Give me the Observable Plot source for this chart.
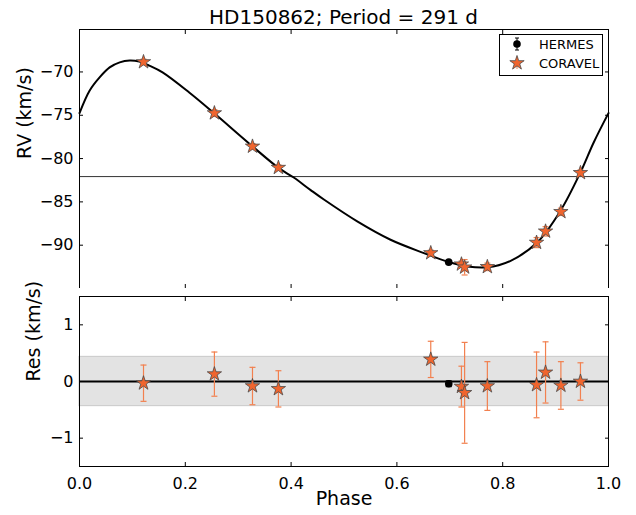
<!DOCTYPE html>
<html><head><meta charset="utf-8">
<script src="https://cdn.jsdelivr.net/npm/d3@7"></script>
<script src="https://cdn.jsdelivr.net/npm/@observablehq/plot@0.6"></script>
<style>
body{margin:0;background:#fff;font-family:"DejaVu Sans",sans-serif;}
#wrap{position:relative;width:636px;height:515px;overflow:hidden;background:#fff;}
#title{position:absolute;left:79px;width:529px;top:5px;text-align:center;font-size:20px;line-height:24px;color:#000;}
#top{position:absolute;left:0;top:0;}
#bot{position:absolute;left:0;top:288px;}
#legend{position:absolute;left:0;top:0;}
</style></head><body>
<div id="wrap"><div id="top"></div><div id="bot"></div><div id="title">HD150862; Period = 291 d</div><svg id="legend" width="636" height="100"></svg></div>
<script>
// ---- data ----
const hermesPhase = [0.698];
const hermesRV = [-91.96];
const hermesRes = [-0.04];
const hermesErr = [0.05];

const coravelPhase = [0.121, 0.255, 0.327, 0.376, 0.664, 0.722, 0.728, 0.771, 0.864, 0.881, 0.910, 0.947];
const coravelRV    = [-68.85, -74.75, -78.60, -81.05, -90.90, -92.20, -92.55, -92.50, -89.70, -88.40, -86.15, -81.65];
const coravelRes   = [-0.03, 0.13, -0.08, -0.13, 0.39, -0.09, -0.20, -0.08, -0.06, 0.16, -0.07, 0.00];
const coravelErr   = [0.32, 0.39, 0.33, 0.32, 0.32, 0.36, 0.89, 0.43, 0.58, 0.54, 0.42, 0.33];

const modelPhase = [0.000, 0.019, 0.038, 0.057, 0.076, 0.095, 0.113, 0.132, 0.157, 0.208, 0.253, 0.326, 0.377, 0.405, 0.437, 0.462, 0.525, 0.588, 0.651, 0.698, 0.733, 0.771, 0.815, 0.865, 0.909, 0.947, 0.972, 1.000];
const modelRV    = [-74.75, -72.16, -70.62, -69.47, -68.89, -68.69, -68.81, -69.27, -70.05, -72.40, -74.69, -78.54, -81.11, -82.19, -83.64, -84.73, -87.25, -89.37, -90.91, -91.95, -92.45, -92.55, -91.80, -89.70, -86.05, -81.60, -78.14, -74.75];

const systemicRV = -82.08;
const rmsBand = 0.435;

const xTicks = [0, 0.2, 0.4, 0.6, 0.8, 1.0];
const rvTicks = [-90, -85, -80, -75, -70];
const resTicks = [-1, 0, 1];

const titleText = "HD150862; Period = 291 d";
const seriesNames = ["HERMES", "CORAVEL"];

// ---- tables ----
const hermes = hermesPhase.map((p, i) => ({phase: p, rv: hermesRV[i], res: hermesRes[i], err: hermesErr[i]}));
const coravel = coravelPhase.map((p, i) => ({phase: p, rv: coravelRV[i], res: coravelRes[i], err: coravelErr[i]}));
const model = modelPhase.map((p, i) => ({phase: p, rv: modelRV[i]}));

// ---- styles ----
const starFill = "#F0652E", starStroke = "#4a4a4a", errColor = "#F2804F";
const minusFmt = d => (d < 0 ? "\u2212" : "") + Math.abs(d);
const cap = {draw(ctx) { ctx.moveTo(-3, 0); ctx.lineTo(3, 0); }};

function axes(yTicks, yFmt, showX) {
  return [
    Plot.axisX({anchor: "bottom", ticks: xTicks, tickSize: -4, tickPadding: 15, tickFormat: showX ? d3.format(".1f") : () => "", fontSize: 16, label: null}),
    Plot.axisX({anchor: "top", ticks: xTicks, tickSize: -4, tickFormat: () => "", label: null}),
    Plot.axisY({anchor: "left", ticks: yTicks, tickSize: -4, tickPadding: 10, tickFormat: yFmt, fontSize: 16, label: null}),
    Plot.axisY({anchor: "right", ticks: yTicks, tickSize: -4, tickFormat: () => "", label: null})
  ];
}

function errMarks(data, key, color, width) {
  return [
    Plot.ruleX(data, {x: "phase", y1: d => d[key] - d.err, y2: d => d[key] + d.err, stroke: color, strokeWidth: width}),
    Plot.dot(data, {x: "phase", y: d => d[key] - d.err, symbol: cap, stroke: color, fill: "none", strokeWidth: width}),
    Plot.dot(data, {x: "phase", y: d => d[key] + d.err, symbol: cap, stroke: color, fill: "none", strokeWidth: width})
  ];
}

const common = {
  width: 636, marginLeft: 79, marginRight: 28,
  x: {domain: [0, 1]},
  style: {fontFamily: "DejaVu Sans", fontSize: "16px", color: "black", background: "white", overflow: "visible"}
};

const topPlot = Plot.plot({
  ...common,
  height: 296, marginTop: 29, marginBottom: 8,
  y: {domain: [-95.0, -65.1]},
  marks: [
    Plot.ruleY([systemicRV], {stroke: "#333", strokeWidth: 1}),
    Plot.line(model, {x: "phase", y: "rv", stroke: "black", strokeWidth: 2, curve: "catmull-rom"}),
    ...errMarks(coravel, "rv", errColor, 1.2),
    ...errMarks(hermes, "rv", "black", 1.2),
    Plot.dot(hermes, {x: "phase", y: "rv", fill: "black", r: 3.8}),
    Plot.dot(coravel, {x: "phase", y: "rv", symbol: "star", fill: starFill, stroke: starStroke, strokeWidth: 0.8, r: 4.5}),
    ...axes(rvTicks, minusFmt, false),
    Plot.text(["RV (km/s)"], {frameAnchor: "left", dx: -55, rotate: -90, fontSize: 19, text: d => d}),
    Plot.frame({stroke: "black"})
  ]
});
document.getElementById("top").appendChild(topPlot);

const botPlot = Plot.plot({
  ...common,
  height: 227, marginTop: 8, marginBottom: 49,
  y: {domain: [-1.5, 1.5]},
  marks: [
    Plot.rect([rmsBand], {y1: d => -d, y2: d => d, fill: "#e3e3e3", stroke: "#c8c8c8", strokeWidth: 1}),
    Plot.ruleY([0], {stroke: "black", strokeWidth: 2}),
    ...errMarks(coravel, "res", errColor, 1.2),
    ...errMarks(hermes, "res", "black", 1.2),
    Plot.dot(hermes, {x: "phase", y: "res", fill: "black", r: 3.8}),
    Plot.dot(coravel, {x: "phase", y: "res", symbol: "star", fill: starFill, stroke: starStroke, strokeWidth: 0.8, r: 4.5}),
    ...axes(resTicks, minusFmt, true),
    Plot.text(["Res (km/s)"], {frameAnchor: "left", dx: -46, rotate: -90, fontSize: 19, text: d => d}),
    Plot.text(["Phase"], {frameAnchor: "bottom", dy: 38, fontSize: 19, text: d => d}),
    Plot.frame({stroke: "black"})
  ]
});
document.getElementById("bot").appendChild(botPlot);

// ---- legend ----
const lg = d3.select("#legend");
lg.append("rect").attr("x", 499.5).attr("y", 34.5).attr("width", 103).attr("height", 41)
  .attr("fill", "white").attr("stroke", "black").attr("stroke-width", 1);
// HERMES
lg.append("line").attr("x1", 517).attr("x2", 517).attr("y1", 38).attr("y2", 50).attr("stroke", "black");
lg.append("line").attr("x1", 515).attr("x2", 519).attr("y1", 38).attr("y2", 38).attr("stroke", "black");
lg.append("line").attr("x1", 515).attr("x2", 519).attr("y1", 50).attr("y2", 50).attr("stroke", "black");
lg.append("circle").attr("cx", 517).attr("cy", 44).attr("r", 3.8).attr("fill", "black");
// CORAVEL
lg.append("line").attr("x1", 517).attr("x2", 517).attr("y1", 57).attr("y2", 69).attr("stroke", errColor);
lg.append("path").attr("d", d3.symbol(d3.symbolStar, Math.PI * 4.5 * 4.5)()).attr("transform", "translate(517,63)")
  .attr("fill", starFill).attr("stroke", starStroke).attr("stroke-width", 0.8);
lg.selectAll("text.l").data(seriesNames).join("text").attr("class", "l")
  .attr("x", 539).attr("y", (d, i) => 44 + i * 19).attr("dy", "0.35em")
  .attr("font-family", "DejaVu Sans").attr("font-size", 13).text(d => d);
document.getElementById("title").textContent = titleText;
</script>
</body></html>
